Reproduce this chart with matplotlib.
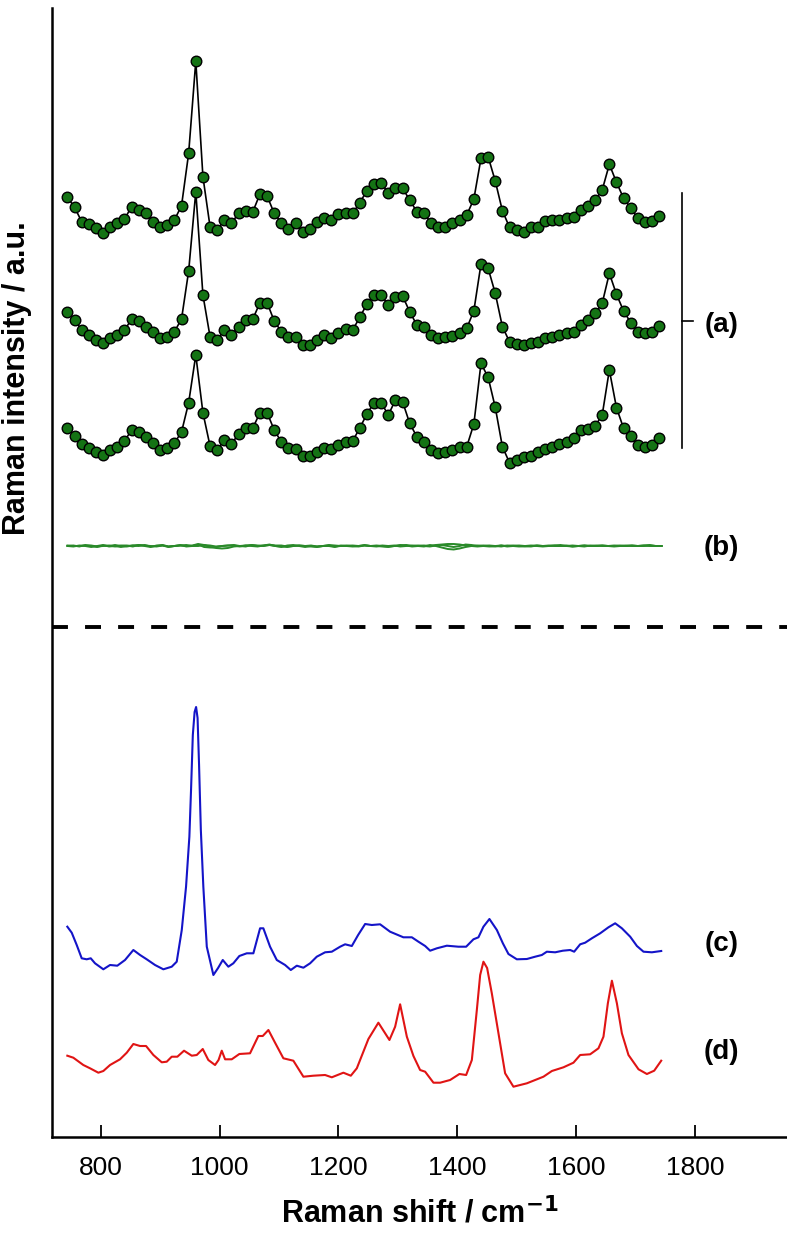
import numpy as np
import matplotlib
matplotlib.use("Agg")
import matplotlib.pyplot as plt

plt.rcParams['font.family'] = ['Liberation Sans', 'DejaVu Sans']

# sampling grid of the (a) spectra, cm-1
shift_a = list(range(744, 1741, 12))

# (a) three spectra, arbitrary units (each above its own baseline)
spec_a1 = [37.7, 27.7, 13.3, 11, 6.7, 1.7, 7.7, 11.7, 16, 28.3,
           25, 21.7, 13.3, 8.3, 10, 15, 29.3, 81.7, 174, 58.3,
           8.3, 5, 15, 11.7, 21.7, 24, 23.3, 41, 39, 21.7,
           12.3, 5.7, 11.7, 2.7, 6, 12.7, 16.7, 15, 21, 21.7,
           21.7, 32.3, 44.3, 50.7, 52.3, 41.7, 47.5, 46.7, 35, 23.3,
           22.3, 11.7, 8.3, 8.3, 11.7, 15, 20, 36, 76.7, 78.3,
           54, 24.3, 7.7, 5, 3.3, 7.7, 7.7, 14, 15, 15,
           16.7, 18.3, 25, 29, 35, 45, 70.7, 52.7, 36.7, 26.7,
           16.7, 13.3, 14, 19.3]
spec_a2 = [38.3, 30, 20, 15, 10, 6.7, 11.7, 15, 20, 30.7,
           29, 23.3, 18.3, 11.7, 13.3, 18.3, 31, 79, 158.3, 55,
           13.3, 10, 20, 15, 23.3, 30, 31, 47.3, 47.3, 29,
           18.3, 12.7, 13.3, 5, 5, 10, 15, 11.7, 17.3, 20.7,
           20, 32.7, 46, 55, 55, 45, 52.7, 54, 38.3, 25,
           23.3, 15, 11.7, 12.7, 14, 16.7, 21.7, 39.3, 86, 81.7,
           56.7, 23.3, 8.3, 6, 5, 7.3, 8.3, 11.7, 13.3, 15,
           16.7, 18.3, 25, 30, 36.7, 46.7, 76.7, 55.7, 39, 27.3,
           18.3, 16.7, 18.3, 24]
spec_a3 = [37, 29, 21, 17, 13, 10, 15, 18, 24, 35,
           33, 28, 22, 15, 17, 22, 33, 62.3, 110, 52.3,
           19, 15, 25, 21, 31, 37, 37, 52.3, 52.3, 35,
           23, 17, 16, 9, 9, 13, 17, 16, 20, 23,
           24, 37, 51, 62.3, 62.3, 50, 65, 63.3, 41.7, 28.3,
           23.3, 15, 11.7, 13.3, 15, 18.3, 18.3, 41, 101.7, 87.7,
           57.7, 18.3, 2.3, 5, 7.7, 9, 13.3, 15.7, 18.3, 21,
           23.3, 26.7, 35, 35.7, 39, 50, 95, 57.3, 36.7, 29,
           20, 18.3, 20, 27.3]

# (b) residual spectra
shift_b = list(range(744, 1745, 10))
spec_b1 = [0, 0.5, -0.5, 1, 0, -1, 0.5, 0, 1, 0,
           -0.5, 0.5, 1, 0, -1, 0.5, 1, -0.5, 0, 1,
           -0.5, 0, 1.5, -1, -1.5, -1, 0, 0.5, 1, 0,
           -0.5, 1, 0.5, 0, 1, 0, -0.5, -1, 0, 0.5,
           0, -0.5, -1, 0, 1, 0.5, 0, 0.5, 0, -0.5,
           0.5, 0, 0.5, 0, -0.5, 0, 0.5, 1, 0, 0.5,
           0, -0.5, 0.5, 1, 0, -1, 0, 1.5, 1, 0,
           0.5, 0, -0.5, 0.5, 0, 0.5, 0, -0.5, 0, 0.5,
           0, 0, 0.5, 1, 0, 0.5, 0, -0.5, 0.5, 0,
           0.5, 0, 0.5, 0, 0, 0.5, 0, 0.5, 1, 0, 0]
spec_b2 = [0, -0.5, 0.5, 0, -1, 0, 1, -0.5, 0, -1,
           0, 0.5, 0, 1, -0.5, 0, 0.5, -1, 0, 0.5,
           0, 0.5, 2, 1, -1, -2, -2.5, -2, -0.5, 0,
           0.5, 1, 0, 0.5, 1.5, 0, -1, 0.5, 1, 0,
           -1, 0, -0.5, 0, 0, -1, 0.5, 0, -0.5, 0,
           0.5, 0, 0, -0.5, -1, 0, 1, 0.5, -0.5, 0,
           -0.5, 1, 0, -1.5, -3, -3.5, -2.5, -1, 0, 0.5,
           0, -0.5, 0, 0.5, -0.5, 0, -0.5, 0, 0.5, 0,
           -0.5, 0, 0.5, 0, 0, -0.5, 0, 0.5, 0, 0.5,
           0, 0, -0.5, 0, 0.5, 0, 0, 0.5, 0, 0, 0]
spec_b3 = [0.5, 0, 0, 0.5, 0.5, -0.5, 0, 0.5, -0.5, 0.5,
           0.5, -0.5, 1, 0.5, 0, -0.5, 0.5, -0.5, 0, 0.5,
           1, 0, 0, 1, 0.5, -0.5, 0, 0.5, 0.5, -0.5,
           0.5, 0, -0.5, 0.5, 1, 0.5, 0.5, -0.5, 0, 0.5,
           0, 0.5, -0.5, 0, 0.5, -0.5, 0, 0, 0.5, 0,
           1, 0, -0.5, 0.5, 0, 0.5, -0.5, 0, 0.5, 0,
           0.5, 0, 1, 1.5, 2, 2, 1.5, 0.5, 0, -0.5,
           0, 0.5, 0, -0.5, 0.5, 0, 0.5, 0, -0.5, 0.5,
           0, 0.5, 0, 0, 0.5, -0.5, 0, 0.5, 0, 0,
           0.5, 0, 0, 0.5, 0, 0.5, 0, 0, 0.5, 0, 0]

# (c) blue reference spectrum
shift_c = [743.8, 751.2, 759.6, 768.0, 776.4, 783.2, 790.4, 804.4, 815.7, 827.9,
           840.9, 854.9, 866.2, 877.4, 891.4, 905.4, 919.5, 927.9, 936.4, 943.6,
           949.2, 952.0, 955.0, 958.0, 960.5, 963.0, 965.5, 968.5, 972.7, 978.5,
           989.6, 997.5, 1005.4, 1014.8, 1023.2, 1033.3, 1045.8, 1056.9, 1068.2, 1073.7,
           1085.0, 1096.3, 1110.3, 1119.9, 1130.0, 1141.1, 1152.4, 1163.6, 1177.6, 1188.9,
           1202.9, 1211.3, 1222.6, 1233.2, 1245.0, 1256.2, 1270.2, 1287.0, 1309.4, 1323.6,
           1334.7, 1346.0, 1354.4, 1365.7, 1382.5, 1402.0, 1415.0, 1427.3, 1435.7, 1444.1,
           1454.2, 1466.7, 1476.8, 1486.2, 1500.3, 1517.2, 1531.1, 1542.4, 1550.8, 1564.8,
           1577.8, 1590.1, 1596.8, 1606.9, 1615.3, 1626.6, 1640.6, 1654.5, 1665.8, 1677.1,
           1691.1, 1702.4, 1713.5, 1727.6, 1743.3]
spec_c = [53.3, 47.3, 35, 21.7, 20.7, 21.7, 16.7, 10.7, 15, 14.3,
          20, 30, 25, 20.7, 15, 10.7, 13.3, 18.3, 50, 93.3,
          143.3, 190, 245, 268, 273, 262, 215, 150, 93.3, 33.3,
          5, 12, 20, 13.3, 16.7, 24, 26.7, 26.7, 51.7, 51.7,
          33.3, 20, 15, 10, 14.3, 12.3, 16.7, 23.3, 27.7, 28.3,
          33.3, 35.7, 34, 45, 56, 55, 55.7, 48.3, 42.7, 42.7,
          38.3, 34, 29.3, 31.7, 34.3, 33.3, 33.3, 40.7, 42.7, 53.3,
          61, 50, 36.7, 26, 20.7, 21, 23.3, 25, 28.3, 27.7,
          29.3, 30, 28.3, 35.7, 37.3, 41.7, 46.7, 52.7, 56.7, 51.7,
          43.3, 34, 28.3, 27.7, 29]

# (d) red reference spectrum
shift_d = [743.8, 753.9, 770.7, 782.0, 796.0, 804.4, 815.7, 832.5, 843.8, 854.9,
           866.2, 876.3, 888.6, 902.7, 911.1, 919.5, 929.0, 940.2, 953.2, 961.6,
           971.7, 981.1, 992.4, 998.3, 1003.7, 1009.3, 1020.5, 1033.3, 1051.3, 1065.3,
           1072.7, 1082.2, 1093.4, 1107.4, 1124.2, 1141.1, 1157.9, 1177.6, 1188.9, 1208.4,
           1220.9, 1231.0, 1250.5, 1267.3, 1285.9, 1295.5, 1303.9, 1315.2, 1326.3, 1337.5,
           1346.0, 1360.0, 1371.2, 1388.0, 1403.7, 1415.0, 1424.6, 1433.0, 1438.6, 1444.1,
           1450.3, 1458.2, 1469.4, 1480.6, 1494.6, 1517.2, 1545.1, 1559.3, 1578.8, 1595.6,
           1606.9, 1623.7, 1637.7, 1646.1, 1653.5, 1660.3, 1668.7, 1677.1, 1688.2, 1705.1,
           1719.2, 1731.5, 1743.3]
spec_d = [34.3, 32.3, 25, 21.7, 17.3, 19, 25, 30.7, 37.3, 46,
          44, 44, 35, 27.7, 28.3, 33.3, 33.3, 39.3, 34.3, 35,
          41, 30, 25, 30, 39.3, 30.7, 30.7, 36, 36.7, 54,
          54, 60, 47.3, 31.7, 29.3, 13.3, 14.3, 15, 12.7, 17.3,
          14.3, 21.7, 51, 67.3, 50, 63.3, 85.7, 53.3, 34, 20,
          18.3, 7.3, 7.3, 10, 16, 15, 30, 80, 115, 128.3,
          122, 96.7, 56.7, 16.7, 3.3, 6.7, 13.3, 19, 22.7, 27.3,
          35, 35.7, 41.7, 53.3, 86.7, 109.3, 86.7, 56.7, 35, 20.7,
          16, 19.3, 29.3]

offsets_a = [902, 787, 672]
offset_b = 591
offset_c = 157
offset_d = 47
labels = ['(a)', '(b)', '(c)', '(d)']

fig = plt.figure(figsize=(7.87, 12.37), dpi=100)
ax = fig.add_axes([52 / 787, 100 / 1237, 735 / 787, 1129 / 1237])

for spec, off in zip([spec_a1, spec_a2, spec_a3], offsets_a):
    ax.plot(shift_a, np.array(spec) + off, color='black', lw=1.2, zorder=2)
    ax.plot(shift_a, np.array(spec) + off, 'o', ms=7.6, mfc='#147314',
            mec='black', mew=1.0, zorder=3)

for spec in [spec_b1, spec_b2, spec_b3]:
    ax.plot(shift_b, np.array(spec) + offset_b, color='#2a8a2a', lw=1.4)

ax.plot(shift_c, np.array(spec_c) + offset_c, color='#1414c8', lw=1.5)
ax.plot(shift_d, np.array(spec_d) + offset_d, color='#e01414', lw=1.5)

# separator
ax.axhline(510, color='black', lw=2.8, ls=(0, (4.1, 4.4)))

# bracket for (a)
ax.plot([1779, 1779], [689, 944], color='black', lw=1.2)
ax.plot([1779, 1797], [816, 816], color='black', lw=1.2)

lab_y = [812, 589, 193, 85]
for lab, yy in zip(labels, lab_y):
    ax.text(1845, yy, lab, fontsize=20, fontweight='bold', ha='center', va='center')

ax.set_xlim(718, 1955)
ax.set_ylim(0, 1129)
ax.set_xticks([800, 1000, 1200, 1400, 1600, 1800])
ax.set_yticks([])
ax.tick_params(axis='x', direction='in', length=9, width=1.3, labelsize=19, pad=14)
for s in ['top', 'right']:
    ax.spines[s].set_visible(False)
for s in ['left', 'bottom']:
    ax.spines[s].set_linewidth(1.8)

ax.set_xlabel('Raman shift / cm$^{\\mathbf{-1}}$', fontsize=22, fontweight='bold', labelpad=12)
fig.text(17 / 787, 1 - 378 / 1237, 'Raman intensity / a.u.', rotation=90,
         fontsize=22, fontweight='bold', ha='center', va='center')

fig.savefig('out.png', dpi=100)
